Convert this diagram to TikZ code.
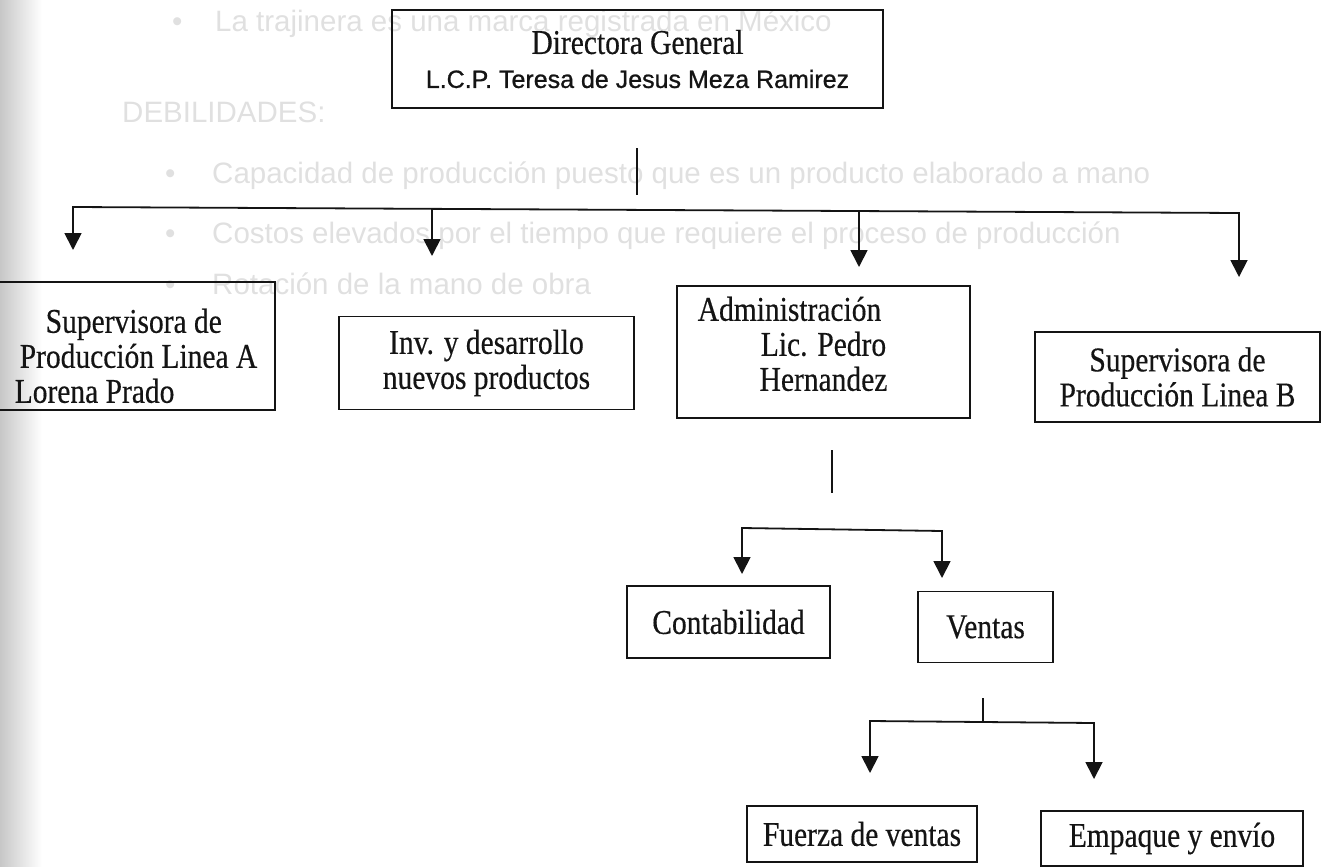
\documentclass[tikz,border=0pt]{standalone}
\usepackage{fontspec}
\setmainfont{Liberation Serif}[FakeStretch=0.85,FakeBold=0.4]
\newfontfamily\arial{Liberation Sans}
\newfontfamily\arialdk{Liberation Sans}[FakeBold=0.9]
\usetikzlibrary{arrows.meta}
\definecolor{ink}{HTML}{141414}
\definecolor{ghostc}{HTML}{E0E0E0}
\begin{document}
\begin{tikzpicture}[x=1pt,y=-1pt,
  box/.style={draw=ink, line width=1.8pt, inner sep=0pt, align=center, text=ink,
              font=\fontsize{34.7}{35}\selectfont},
  conn/.style={draw=ink, line width=1.8pt},
  tri/.style={-{Triangle[width=17pt,length=17pt]}},
  bothtri/.style={{Triangle[width=17pt,length=17pt]}-{Triangle[width=17pt,length=17pt]}},
  ghost/.style={text=ghostc, font=\arial\fontsize{29.5}{35}\selectfont, anchor=base west, inner sep=0pt}]
\useasboundingbox (0,0) rectangle (1325,867);
\shade[left color=black!22, right color=white] (0,0) rectangle (42,867);

% faint text showing through from the other side of the page
\node[ghost] (gb1) at (172,32) {\textbullet};
\node[ghost] (g1) at (215,32) {La trajinera es una marca registrada en México};
\node[ghost] (g2) at (122,122) {DEBILIDADES:};
\node[ghost] (gb2) at (165,183) {\textbullet};
\node[ghost] (g3) at (212,183) {Capacidad de producción puesto que es un producto elaborado a mano};
\node[ghost] (gb3) at (165,243) {\textbullet};
\node[ghost] (g4) at (212,243) {Costos elevados por el tiempo que requiere el proceso de producción};
\node[ghost] (gb4) at (165,294) {\textbullet};
\node[ghost] (g5) at (212,294) {Rotación de la mano de obra};

% boxes
\node[box, minimum width=491pt, minimum height=98pt] (dir) at (637.5,59)
  {Directora General\\[-1pt]{\arialdk\fontsize{25}{30}\selectfont L.C.P. Teresa de Jesus Meza Ramirez}};
\node[box, minimum width=278pt, minimum height=128pt] (supA) at (136,346)
  {\raisebox{-21pt}[0pt][0pt]{\begin{tabular}{@{}l@{}}\hspace*{31pt}Supervisora de\\\hspace*{5pt}Producción Linea A\\Lorena Prado\end{tabular}}};
\node[box, minimum width=295pt, minimum height=93pt] (inv) at (486.5,363)
  {Inv. y desarrollo\\nuevos productos};
\node[box, minimum width=293pt, minimum height=132pt] (adm) at (823.5,352)
  {\raisebox{-3pt}[0pt][0pt]{\begin{tabular}{@{}c@{}}Administración\hspace*{68pt}\\Lic. Pedro\\Hernandez\end{tabular}}};
\node[box, minimum width=285pt, minimum height=90pt] (supB) at (1177.5,377)
  {Supervisora de\\Producción Linea B};
\node[box, minimum width=203pt, minimum height=72pt] (cont) at (728.5,622) {Contabilidad};
\node[box, minimum width=135pt, minimum height=71pt] (vent) at (985.5,627) {Ventas};
\node[box, minimum width=230pt, minimum height=56pt] (fuer) at (862,834) {Fuerza de ventas};
\node[box, minimum width=262pt, minimum height=55pt] (emp) at (1172,838.5) {Empaque y envío};

% level 1 connectors
\coordinate (d1) at (637,148);
\coordinate (d2) at (637,195);
\draw[conn] (d1) -- (d2);
\coordinate (bL) at (73,207);
\coordinate (bR) at (1239,213);
\coordinate (tA) at (73,250);
\coordinate (tB) at (1239,277);
\draw[conn, bothtri] (tA) -- (bL) -- (bR) -- (tB);
\coordinate (bI) at (432,209);
\coordinate (tI) at (432,256);
\draw[conn, tri] (bI) -- (tI);
\coordinate (bM) at (859,211);
\coordinate (tM) at (859,267);
\draw[conn, tri] (bM) -- (tM);

% level 2 connectors
\coordinate (a1) at (832,450);
\coordinate (a2) at (832,493);
\draw[conn] (a1) -- (a2);
\coordinate (cL) at (742,528);
\coordinate (cR) at (942,531);
\coordinate (tC) at (742,574);
\coordinate (tV) at (942,578);
\draw[conn, bothtri] (tC) -- (cL) -- (cR) -- (tV);

% level 3 connectors
\coordinate (v1) at (983,698);
\coordinate (v2) at (983,722);
\draw[conn] (v1) -- (v2);
\coordinate (eL) at (870,721);
\coordinate (eR) at (1094,723);
\coordinate (tF) at (870,773);
\coordinate (tE) at (1094,779);
\draw[conn, bothtri] (tF) -- (eL) -- (eR) -- (tE);
\end{tikzpicture}
\end{document}
